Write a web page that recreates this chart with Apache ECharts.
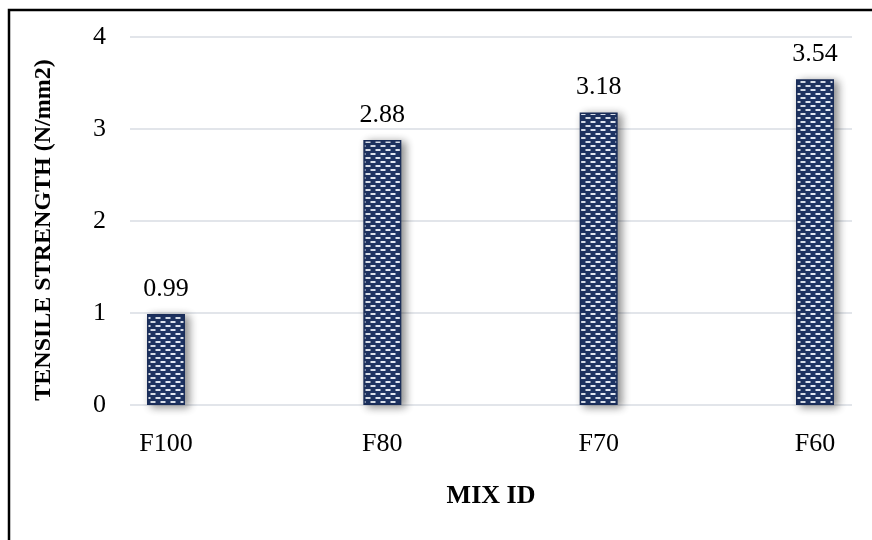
<!DOCTYPE html>
<html>
<head>
<meta charset="utf-8">
<script src="https://cdn.jsdelivr.net/npm/echarts@6/dist/echarts.min.js"></script>
<style>
  html, body { margin: 0; padding: 0; background: #fff; }
  #chart { width: 872px; height: 540px; }
</style>
</head>
<body>
<div id="chart"></div>
<script>
// Mix identifiers and measured tensile strength (N/mm2)
const categories = ['F100', 'F80', 'F70', 'F60'];
const tensileStrength = [0.99, 2.88, 3.18, 3.54];
const yTicks = [0, 1, 2, 3, 4];

const xAxisTitle = 'MIX ID';
const yAxisTitle = 'TENSILE STRENGTH (N/mm2)';

// Category slots are placed on a numeric axis; the outer bars sit close to the plot edges
const slotIndex = categories.map((_, i) => i);
const slotMin = -0.1664;
const slotMax = 3.171;

// Brick-like dotted fill for the bars: navy ground with light dashes
function makeDashPattern() {
  const c = document.createElement('canvas');
  c.width = 10;
  c.height = 8;
  const g = c.getContext('2d');
  g.fillStyle = '#1f3565';
  g.fillRect(0, 0, 10, 8);
  g.fillStyle = '#e4eaf5';
  g.fillRect(0.5, 1, 5, 2);
  g.fillRect(5.5, 5, 5, 2);
  g.fillRect(-4.5, 5, 5, 2);
  return c;
}

const serif = '"Liberation Serif", "Times New Roman", serif';
const chart = echarts.init(document.getElementById('chart'), null, { renderer: 'canvas' });

const option = {
  backgroundColor: '#ffffff',
  animation: false,
  graphic: [{
    type: 'rect',
    shape: { x: 9, y: 10, width: 900, height: 600 },
    style: { fill: 'none', stroke: '#000', lineWidth: 2.5 },
    silent: true,
    z: 100
  }],
  grid: { left: 130, right: 20, top: 37, height: 368 },
  xAxis: {
    type: 'value',
    min: slotMin,
    max: slotMax,
    axisLine: { show: false },
    axisTick: { show: false },
    splitLine: { show: false },
    axisLabel: {
      customValues: slotIndex,
      formatter: v => categories[Math.round(v)],
      fontFamily: serif, fontSize: 26, color: '#000', margin: 26
    },
    name: xAxisTitle,
    nameLocation: 'middle',
    nameGap: 78,
    nameTextStyle: { fontFamily: serif, fontSize: 26, fontWeight: 'bold', color: '#000' }
  },
  yAxis: {
    type: 'value',
    min: yTicks[0],
    max: yTicks[yTicks.length - 1],
    interval: 1,
    axisLine: { show: false },
    axisTick: { show: false },
    axisLabel: { fontFamily: serif, fontSize: 26, color: '#000', margin: 24 },
    splitLine: { lineStyle: { color: '#d9dde3', width: 1.5 } },
    name: yAxisTitle,
    nameLocation: 'middle',
    nameGap: 74,
    nameRotate: 90,
    nameTextStyle: {
      fontFamily: serif, fontSize: 24, fontWeight: 'bold', color: '#000',
      padding: [0, 18, 0, 0]
    }
  },
  series: [{
    type: 'bar',
    data: tensileStrength.map((v, i) => [slotIndex[i], v]),
    barWidth: 38,
    itemStyle: {
      color: { image: makeDashPattern(), repeat: 'repeat' },
      borderColor: '#1a2d58',
      borderWidth: 1.5,
      shadowColor: 'rgba(0,0,0,0.45)',
      shadowBlur: 8,
      shadowOffsetX: 4,
      shadowOffsetY: 2
    },
    label: {
      show: true,
      position: 'top',
      distance: 12,
      fontFamily: serif,
      fontSize: 26,
      color: '#000',
      formatter: p => p.value[1].toFixed(2)
    }
  }]
};

chart.setOption(option);
</script>
</body>
</html>
